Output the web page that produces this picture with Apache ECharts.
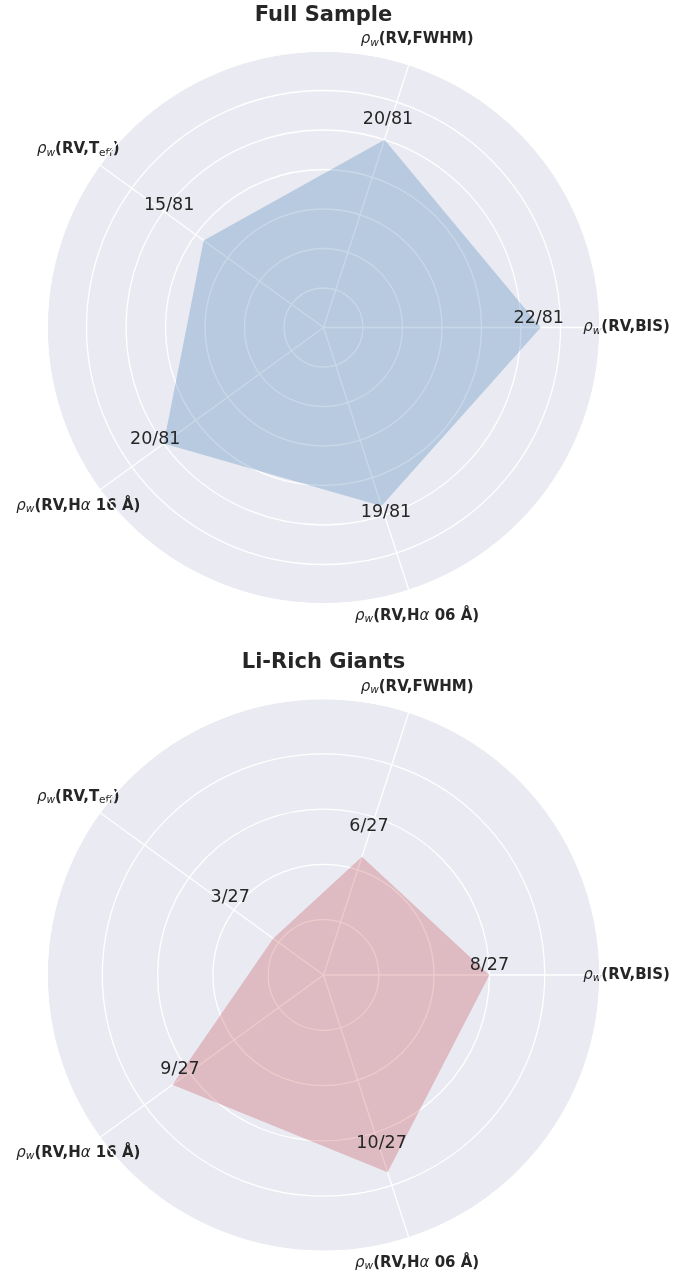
<!DOCTYPE html>
<html>
<head>
<meta charset="utf-8">
<title>Radar</title>
<script src="https://cdn.jsdelivr.net/npm/echarts@6/dist/echarts.min.js"></script>
<style>
  html, body { margin: 0; padding: 0; background: #fff; }
  #chart { width: 700px; height: 1276px; }
</style>
</head>
<body>
<div id="chart"></div>
<script>
// 五个指标，逆时针从 0° 开始
const axisKeys = ['BIS', 'FWHM', 'Teff', 'Ha16', 'Ha06'];
const axisAngles = [0, 72, 144, 216, 288];

// Full Sample
const fullCounts = [22, 20, 15, 20, 19];
const fullTotal = 81;
const fullMax = 28;
const fullStep = 4;

// Li-Rich Giants
const liCounts = [8, 6, 3, 9, 10];
const liTotal = 27;
const liMax = 40 / 3;
const liStep = 8 / 3;

// 轴名称（富文本）
const axisLabels = {
  BIS: '{rho|ρ}{sub|w}{b|(RV,BIS)}',
  FWHM: '{rho|ρ}{sub|w}{b|(RV,FWHM)}',
  Teff: '{rho|ρ}{sub|w}{b|(RV,T}{sub2|eff}{b|)}',
  Ha16: '{rho|ρ}{sub|w}{b|(RV,H}{al|α}{b| 16 Å)}',
  Ha06: '{rho|ρ}{sub|w}{b|(RV,H}{al|α}{b| 06 Å)}',
}

const textColor = '#262626'
const font = 'DejaVu Sans'
const rich = {
  rho: { fontFamily: font, fontStyle: 'italic', fontSize: 15, color: textColor },
  sub: { fontFamily: font, fontStyle: 'italic', fontSize: 10.5, color: textColor, padding: [7, 0, 0, 0] },
  sub2: { fontFamily: font, fontSize: 10.5, color: textColor, padding: [7, 0, 0, 0] },
  b: { fontFamily: font, fontWeight: 'bold', fontSize: 15, color: textColor },
  al: { fontFamily: font, fontStyle: 'italic', fontSize: 15, color: textColor },
}

const polar = []
const angleAxis = []
const radiusAxis = []
const series = []

function addPanel (cy, counts, total, max, step, color, offsets) {
  const a = polar.length
  const b = a + 1
  const center = [323.5, cy]
  polar.push({ center: center, radius: 276.5 }, { center: center, radius: 276.5 })

  const noAxis = {
    axisLine: { show: false },
    axisTick: { show: false },
    axisLabel: { show: false },
  }
  // 网格
  angleAxis.push(Object.assign({
    polarIndex: a, type: 'value', min: 0, max: 360, interval: 72,
    startAngle: 0, clockwise: false, z: 1,
    splitLine: { show: true, lineStyle: { color: '#fff', width: 1.3 } },
  }, noAxis))
  radiusAxis.push(Object.assign({
    polarIndex: a, type: 'value', min: 0, max: max, interval: step, z: 1,
    splitLine: { show: true, lineStyle: { color: '#fff', width: 1.3 } },
    splitArea: { show: false },
  }, noAxis))
  // 背景圆盘 + 外圈
  angleAxis.push({
    polarIndex: b, type: 'value', min: 0, max: 360, interval: 72,
    startAngle: 0, clockwise: false, z: 4,
    axisLine: { show: true, lineStyle: { color: '#fff', width: 1.6 } },
    axisTick: { show: false },
    axisLabel: { show: false },
    splitLine: { show: false },
  })
  radiusAxis.push(Object.assign({
    polarIndex: b, type: 'value', min: 0, max: 1, interval: 1, z: 0,
    splitLine: { show: false },
    splitArea: { show: true, areaStyle: { color: ['#eaeaf2'] } },
  }, noAxis))

  const points = counts.map((c, i) => [c, axisAngles[i]])
  points.push([counts[0], 360])

  series.push({
    type: 'line',
    coordinateSystem: 'polar',
    polarIndex: a,
    z: 2,
    silent: true,
    symbol: 'none',
    lineStyle: { width: 0 },
    areaStyle: { color: color, opacity: 0.3 },
    data: points,
  })

  // 数值标签
  series.push({
    type: 'scatter',
    coordinateSystem: 'polar',
    polarIndex: a,
    z: 3,
    silent: true,
    symbolSize: 0,
    itemStyle: { color: 'transparent', opacity: 1 },
    data: counts.map((c, i) => ({ value: [c, axisAngles[i]], label: { offset: offsets[i] } })),
    label: {
      show: true,
      position: 'inside',
      opacity: 1,
      textBorderWidth: 0,
      formatter: p => p.value[0] + '/' + total,
      fontFamily: font,
      fontSize: 17.5,
      color: textColor,
    },
  })

  // 轴名称
  series.push({
    type: 'scatter',
    coordinateSystem: 'polar',
    polarIndex: a,
    z: 3,
    clip: false,
    silent: true,
    symbolSize: 0,
    itemStyle: { color: 'transparent', opacity: 1 },
    data: axisKeys.map((k, i) => ({ value: [max * 1.096, axisAngles[i]], name: k })),
    label: {
      show: true,
      position: 'inside',
      opacity: 1,
      textBorderWidth: 0,
      color: textColor,
      formatter: p => axisLabels[p.name],
      rich: rich,
    },
  })
}

addPanel(327.5, fullCounts, fullTotal, fullMax, fullStep, '#4682b4',
  [[-2, -9.5], [3.5, -20.5], [-34.5, -34.5], [-8.5, -4.5], [4.5, 6.5]])
addPanel(975, liCounts, liTotal, liMax, liStep, '#c44e52',
  [[0, -9.5], [7, -30], [-43, -40.5], [7.5, -15.5], [-6, -29]])

const titleStyle = { fontFamily: font, fontSize: 21, fontWeight: 'bold', color: textColor }

const chart = echarts.init(document.getElementById('chart'))
chart.setOption({
  animation: false,
  backgroundColor: '#fff',
  title: [
    { text: 'Full Sample', left: 323.5, top: 5, textAlign: 'center', padding: 0, textStyle: titleStyle },
    { text: 'Li-Rich Giants', left: 323.5, top: 652, textAlign: 'center', padding: 0, textStyle: titleStyle },
  ],
  polar: polar,
  angleAxis: angleAxis,
  radiusAxis: radiusAxis,
  series: series,
})
</script>
</body>
</html>
